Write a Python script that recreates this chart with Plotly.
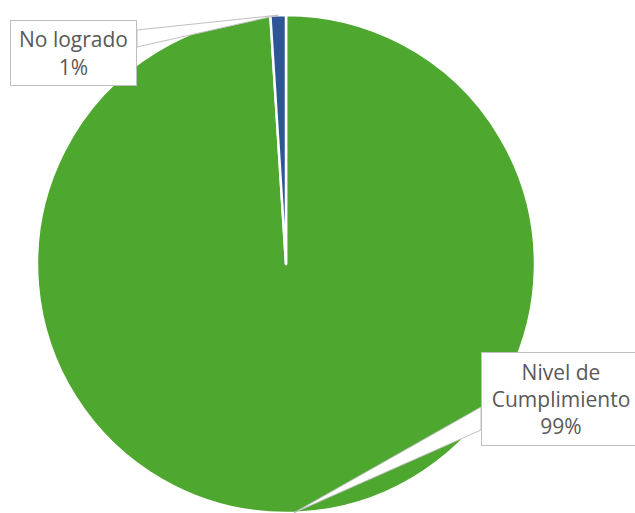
"""Pie chart: nivel de cumplimiento vs no logrado, with callout labels."""

import math

import plotly.graph_objects as go

LABELS = ["Nivel de Cumplimiento", "No logrado"]
VALUES = [99, 1]
COLORS = ["#4EA72E", "#2E5597"]
CALLOUT_TEXT = ["Nivel de<br>Cumplimiento<br>99%", "No logrado<br>1%"]

W, H = 635, 513
TOP, BOTTOM = 15, 0
FONT = dict(family="Open Sans", size=21, color="#595959")
BOX_LINE = "#BFBFBF"

# pie geometry in figure pixels
R = (H - TOP - BOTTOM) / 2
CX, CY = 286, TOP + R


def px_x(x):
    return x / W


def px_y(y):
    return 1 - (y - TOP) / (H - TOP - BOTTOM)


def slice_tip(idx):
    """Outer edge point at the middle of slice idx (clockwise from 12 o'clock)."""
    total = sum(VALUES)
    start = sum(VALUES[:idx]) / total
    mid = (start + VALUES[idx] / total / 2) * 2 * math.pi
    return CX + R * math.sin(mid), CY - R * math.cos(mid)


fig = go.Figure(
    go.Pie(
        labels=LABELS,
        values=VALUES,
        sort=False,
        direction="clockwise",
        rotation=0,
        textinfo="none",
        hoverinfo="label+percent",
        marker=dict(colors=COLORS, line=dict(color="white", width=2.5)),
        domain=dict(x=[px_x(CX - R), px_x(CX + R)], y=[0, 1]),
        showlegend=False,
    )
)

# callout boxes: (left, top, width, height, base y1, base y2, base on right side?)
boxes = [
    (481, 352, 160, 94, 407, 430, False),
    (10, 20, 127, 66, 30, 47, True),
]

for i, (bx, by, bw, bh, b1, b2, right) in enumerate(boxes):
    tx, ty = slice_tip(i)
    ex = bx + bw if right else bx
    path = (
        f"M {px_x(ex)},{px_y(b1)} L {px_x(tx)},{px_y(ty)} "
        f"L {px_x(ex)},{px_y(b2)} Z"
    )
    fig.add_shape(
        type="path",
        path=path,
        xref="paper",
        yref="paper",
        fillcolor="white",
        line=dict(color=BOX_LINE, width=1),
        layer="above",
    )
    fig.add_annotation(
        text=CALLOUT_TEXT[i],
        xref="paper",
        yref="paper",
        x=px_x(bx),
        y=px_y(by),
        xanchor="left",
        yanchor="top",
        width=bw - 2,
        height=bh - 2,
        align="center",
        valign="middle",
        showarrow=False,
        bgcolor="white",
        bordercolor=BOX_LINE,
        borderwidth=1,
        borderpad=0,
        font=FONT,
    )

fig.update_layout(
    width=W,
    height=H,
    margin=dict(l=0, r=0, t=TOP, b=BOTTOM),
    paper_bgcolor="white",
    plot_bgcolor="white",
)

# drop the default page margin so the 635x513 figure fills the window exactly
fig.write_html(
    "out.html",
    config={"displayModeBar": False},
    post_script="document.body.style.margin = '0';",
)
